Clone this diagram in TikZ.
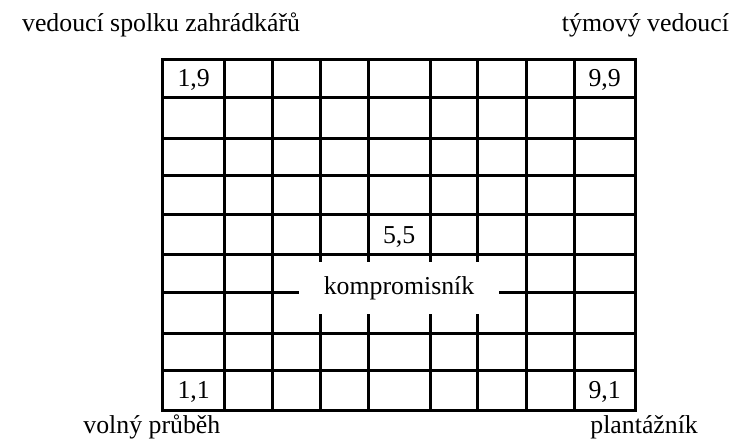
\documentclass[tikz,border=0pt]{standalone}
\usepackage{fontspec}
\setmainfont{Liberation Serif}
\begin{document}
\begin{tikzpicture}[x=0.5pt,y=-0.5pt,
  lbl/.style={inner sep=0pt, font=\fontsize{12.9pt}{15pt}\selectfont},
  gridline/.style={line width=1.25pt, line cap=rect}]
\useasboundingbox (0,0) rectangle (733,439);
% grid
\foreach \x in {162.5,224.5,272.5,320.5,368.5,430.5,477.5,526.5,574.5,635.5}
  \draw[gridline] (\x,59.5) -- (\x,410.5);
\foreach \y in {59.5,97.5,138.5,175.5,214.5,254.5,292.5,333.5,370.5,410.5}
  \draw[gridline] (162.5,\y) -- (635.5,\y);
% central label box
\node[lbl, fill=white, minimum width=100pt, minimum height=26pt] (komp) at (399,288) {kompromisník};
% cell labels
\node[lbl, anchor=base] (c19) at (193.7,86.7) {1,9};
\node[lbl, anchor=base] (c99) at (604.65,86.7) {9,9};
\node[lbl, anchor=base] (c55) at (399.15,243) {5,5};
\node[lbl, anchor=base] (c11) at (193.7,398) {1,1};
\node[lbl, anchor=base] (c91) at (604.65,398) {9,1};
% corner labels
\node[lbl, anchor=base west] (tl) at (21.7,31.5) {vedoucí spolku zahrádkářů};
\node[lbl, anchor=base east] (tr) at (729.3,31.5) {týmový vedoucí};
\node[lbl, anchor=base west] (bl) at (83,433) {volný průběh};
\node[lbl, anchor=base west] (br) at (590,433) {plantážník};
\end{tikzpicture}
\end{document}
